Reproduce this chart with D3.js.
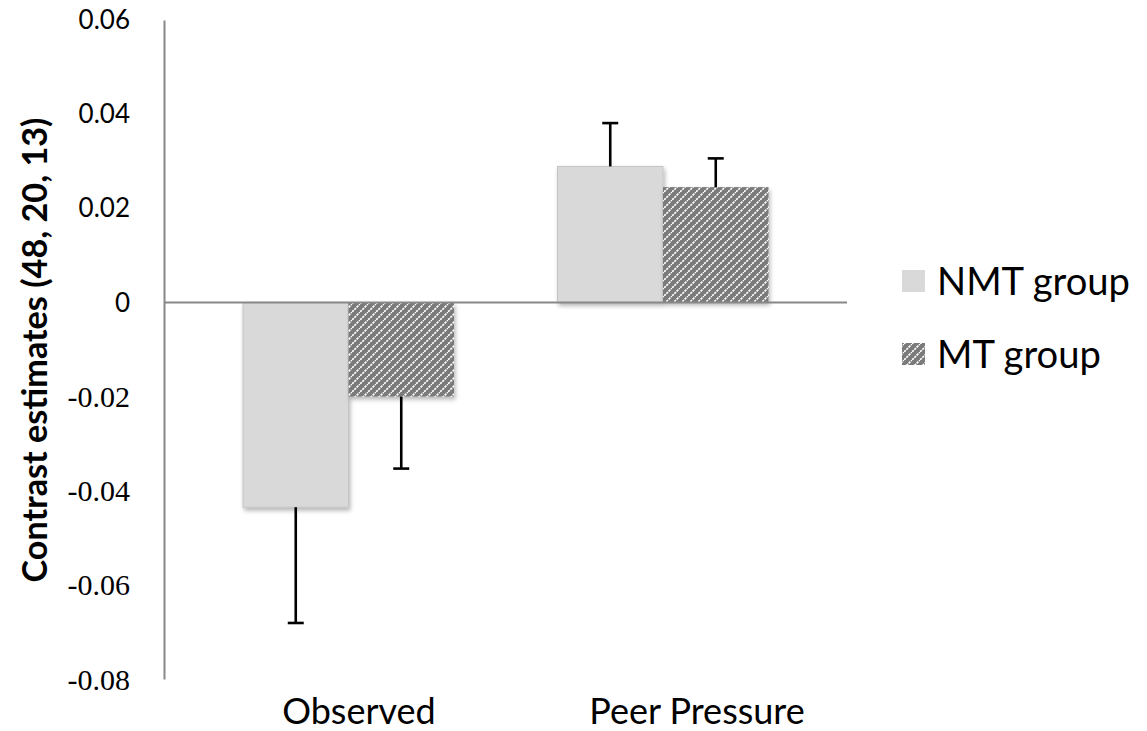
<!DOCTYPE html>
<html>
<head>
<meta charset="utf-8">
<script src="https://cdn.jsdelivr.net/npm/d3@7"></script>
<style>
  html, body { margin: 0; padding: 0; background: #fff; }
  svg { display: block; }
</style>
</head>
<body>
<svg id="chart" width="1147" height="731"></svg>
<script>
// ---- data ----
const categories = ["Observed", "Peer Pressure"];
const seriesNames = ["NMT group", "MT group"];
const nmtValues = [-0.0435, 0.0289];
const mtValues = [-0.0200, 0.0245];
const nmtErrors = [0.0246, 0.0092];
const mtErrors = [0.0153, 0.0061];
const tickValues = [0.06, 0.04, 0.02, 0, -0.02, -0.04, -0.06, -0.08];
const tickLabels = ["0.06", "0.04", "0.02", "0", "-0.02", "-0.04", "-0.06", "-0.08"];
const yTitle = "Contrast estimates (48, 20, 13)";

const svg = d3.select("#chart");
const SANS = "Lato, 'Open Sans', sans-serif";
const SERIF = "'Liberation Serif', 'Times New Roman', 'DejaVu Serif', serif";

const defs = svg.append("defs");
const pat = defs.append("pattern")
  .attr("id", "hatch").attr("patternUnits", "userSpaceOnUse")
  .attr("width", 8).attr("height", 8);
pat.append("rect").attr("width", 8).attr("height", 8).attr("fill", "#7a7a7a");
pat.append("path")
  .attr("d", "M-2,2 L2,-2 M0,8 L8,0 M6,10 L10,6")
  .attr("stroke", "#ffffff").attr("stroke-width", 1.6)
  .attr("stroke-dasharray", "2.4,0.9");
const filt = defs.append("filter").attr("id", "shadow")
  .attr("x", "-10%").attr("y", "-10%").attr("width", "130%").attr("height", "130%");
filt.append("feDropShadow").attr("dx", 1.5).attr("dy", 3).attr("stdDeviation", 2.2)
  .attr("flood-color", "#000").attr("flood-opacity", 0.28);

// ---- scales ----
const y = d3.scaleLinear().domain([-0.08, 0.06]).range([679, 20]);
const xGroup = d3.scalePoint().domain(categories).range([348.5, 663]);
const xSub = d3.scaleBand().domain(seriesNames).range([-105.5, 105.5]).padding(0);
const xLabel = d3.scalePoint().domain(categories).range([359, 697]);

const axisLeftX = 164, axisRightX = 847;

const series = [
  { name: seriesNames[0], values: nmtValues, errors: nmtErrors, fill: "#d9d9d9", stroke: "#c4c4c4" },
  { name: seriesNames[1], values: mtValues, errors: mtErrors, fill: "url(#hatch)", stroke: "none" }
];

// ---- bars ----
const barG = svg.append("g");
series.forEach(s => {
  barG.selectAll(null).data(categories).enter().append("rect")
    .attr("x", c => xGroup(c) + xSub(s.name))
    .attr("width", xSub.bandwidth())
    .attr("y", (c, i) => y(Math.max(0, s.values[i])))
    .attr("height", (c, i) => Math.abs(y(s.values[i]) - y(0)))
    .attr("fill", s.fill)
    .attr("stroke", s.stroke).attr("stroke-width", 1)
    .attr("filter", "url(#shadow)");
});

// ---- error bars ----
const errG = svg.append("g").attr("stroke", "#000").attr("stroke-width", 2.6);
series.forEach(s => {
  categories.forEach((c, i) => {
    const cx = xGroup(c) + xSub(s.name) + xSub.bandwidth() / 2;
    const v = s.values[i];
    const end = v + Math.sign(v) * s.errors[i];
    errG.append("line").attr("x1", cx).attr("x2", cx).attr("y1", y(v)).attr("y2", y(end));
    errG.append("line").attr("x1", cx - 8).attr("x2", cx + 8).attr("y1", y(end)).attr("y2", y(end));
  });
});

// ---- axes ----
const yAxis = d3.axisLeft(y).tickValues(tickValues).tickSize(0).tickPadding(0)
  .tickFormat(() => "");
const yAxisG = svg.append("g").attr("transform", `translate(${axisLeftX},0)`).call(yAxis);
yAxisG.select(".domain").attr("stroke", "#888").attr("stroke-width", 2);
yAxisG.selectAll(".tick text").remove();

// tick labels drawn from the scale
const tickG = svg.append("g");
tickValues.forEach((v, i) => {
  const neg = v < 0;
  tickG.append("text")
    .attr("x", 130).attr("y", y(v)).attr("dy", "0.35em")
    .attr("text-anchor", "end")
    .attr("fill", "#000")
    .attr("font-family", neg ? SERIF : SANS)
    .attr("font-size", neg ? 30 : 26)
    .style("font-family", neg ? SERIF : SANS)
    .style("font-size", (neg ? 30 : 26) + "px")
    .text(tickLabels[i]);
});

// zero line
svg.append("line")
  .attr("x1", axisLeftX).attr("x2", axisRightX)
  .attr("y1", y(0)).attr("y2", y(0))
  .attr("stroke", "#888").attr("stroke-width", 2);

// category labels
svg.append("g").selectAll("text").data(categories).enter().append("text")
  .attr("x", c => xLabel(c)).attr("y", 724)
  .attr("text-anchor", "middle")
  .style("font-family", SANS)
  .style("font-size", "36px")
  .text(c => c);

// y title
const titleEl = svg.append("text")
  .attr("transform", "translate(47,350) rotate(-90)")
  .attr("text-anchor", "middle")
  .style("font-family", SANS)
  .style("font-weight", "bold")
  .style("font-size", "30px")
  .text(yTitle);

// legend
const legend = svg.append("g");
const legendY = [281, 354];
series.forEach((s, i) => {
  legend.append("rect")
    .attr("x", 902).attr("y", legendY[i] - 11).attr("width", 23).attr("height", 22)
    .attr("fill", s.fill);
  legend.append("text")
    .attr("x", 937).attr("y", legendY[i]).attr("dy", "0.36em")
    .style("font-family", SANS)
    .style("font-size", "36px")
    .text(s.name);
});

// fit text widths to reference measurements
function fit(sel, target) {
  sel.each(function () {
    const el = d3.select(this);
    const fs = parseFloat(el.style("font-size"));
    const w = this.getComputedTextLength();
    if (w > 0) el.style("font-size", (fs * target / w).toFixed(2) + "px");
  });
}
fit(titleEl, 465);
const nmtText = legend.selectAll("text").filter(function () { return d3.select(this).text() === "NMT group"; });
fit(nmtText, 193);
legend.selectAll("text").style("font-size", nmtText.style("font-size"));
</script>
</body>
</html>
